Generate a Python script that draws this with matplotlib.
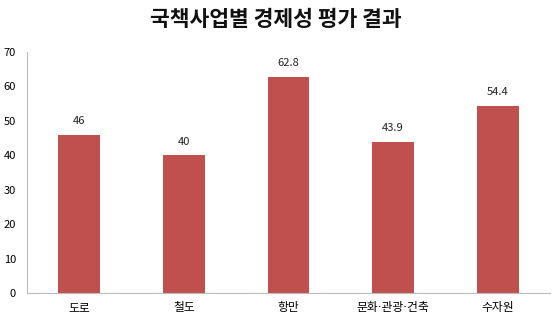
import matplotlib.pyplot as plt

plt.rcParams['font.family'] = ['Noto Sans CJK KR', 'DejaVu Sans']

categories = ['도로', '철도', '항만', '문화·관광·건축', '수자원']
values = [46, 40, 62.8, 43.9, 54.4]
labels = ['46', '40', '62.8', '43.9', '54.4']

fig = plt.figure(figsize=(5.52, 3.23), dpi=100)
ax = fig.add_axes([27 / 552, 30 / 323, 523 / 552, 241 / 323])

x = range(len(categories))
ax.bar(x, values, width=0.4, color='#C0504D')
for i, v in enumerate(values):
    ax.text(i, v + 2.5, labels[i], ha='center', va='bottom', fontsize=8, color='#222222')

ax.set_xlim(-0.5, len(categories) - 0.5)
ax.set_ylim(0, 70)
ax.set_yticks(range(0, 71, 10))
ax.set_xticks(list(x))
ax.set_xticklabels(categories, fontsize=8.5, family=['DejaVu Sans', 'Noto Sans CJK KR'])
ax.tick_params(axis='y', labelsize=8, length=0, pad=8)
ax.tick_params(axis='x', length=0, pad=6)
for s in ['top', 'right']:
    ax.spines[s].set_visible(False)
for s in ['left', 'bottom']:
    ax.spines[s].set_color('#BBBBBB')
    ax.spines[s].set_linewidth(0.8)

fig.text(0.5, 1 - 19 / 323, '국책사업별 경제성 평가 결과', ha='center', va='center',
         fontsize=15.5, fontweight='bold', color='#111111')

fig.savefig('out.png', dpi=100)
